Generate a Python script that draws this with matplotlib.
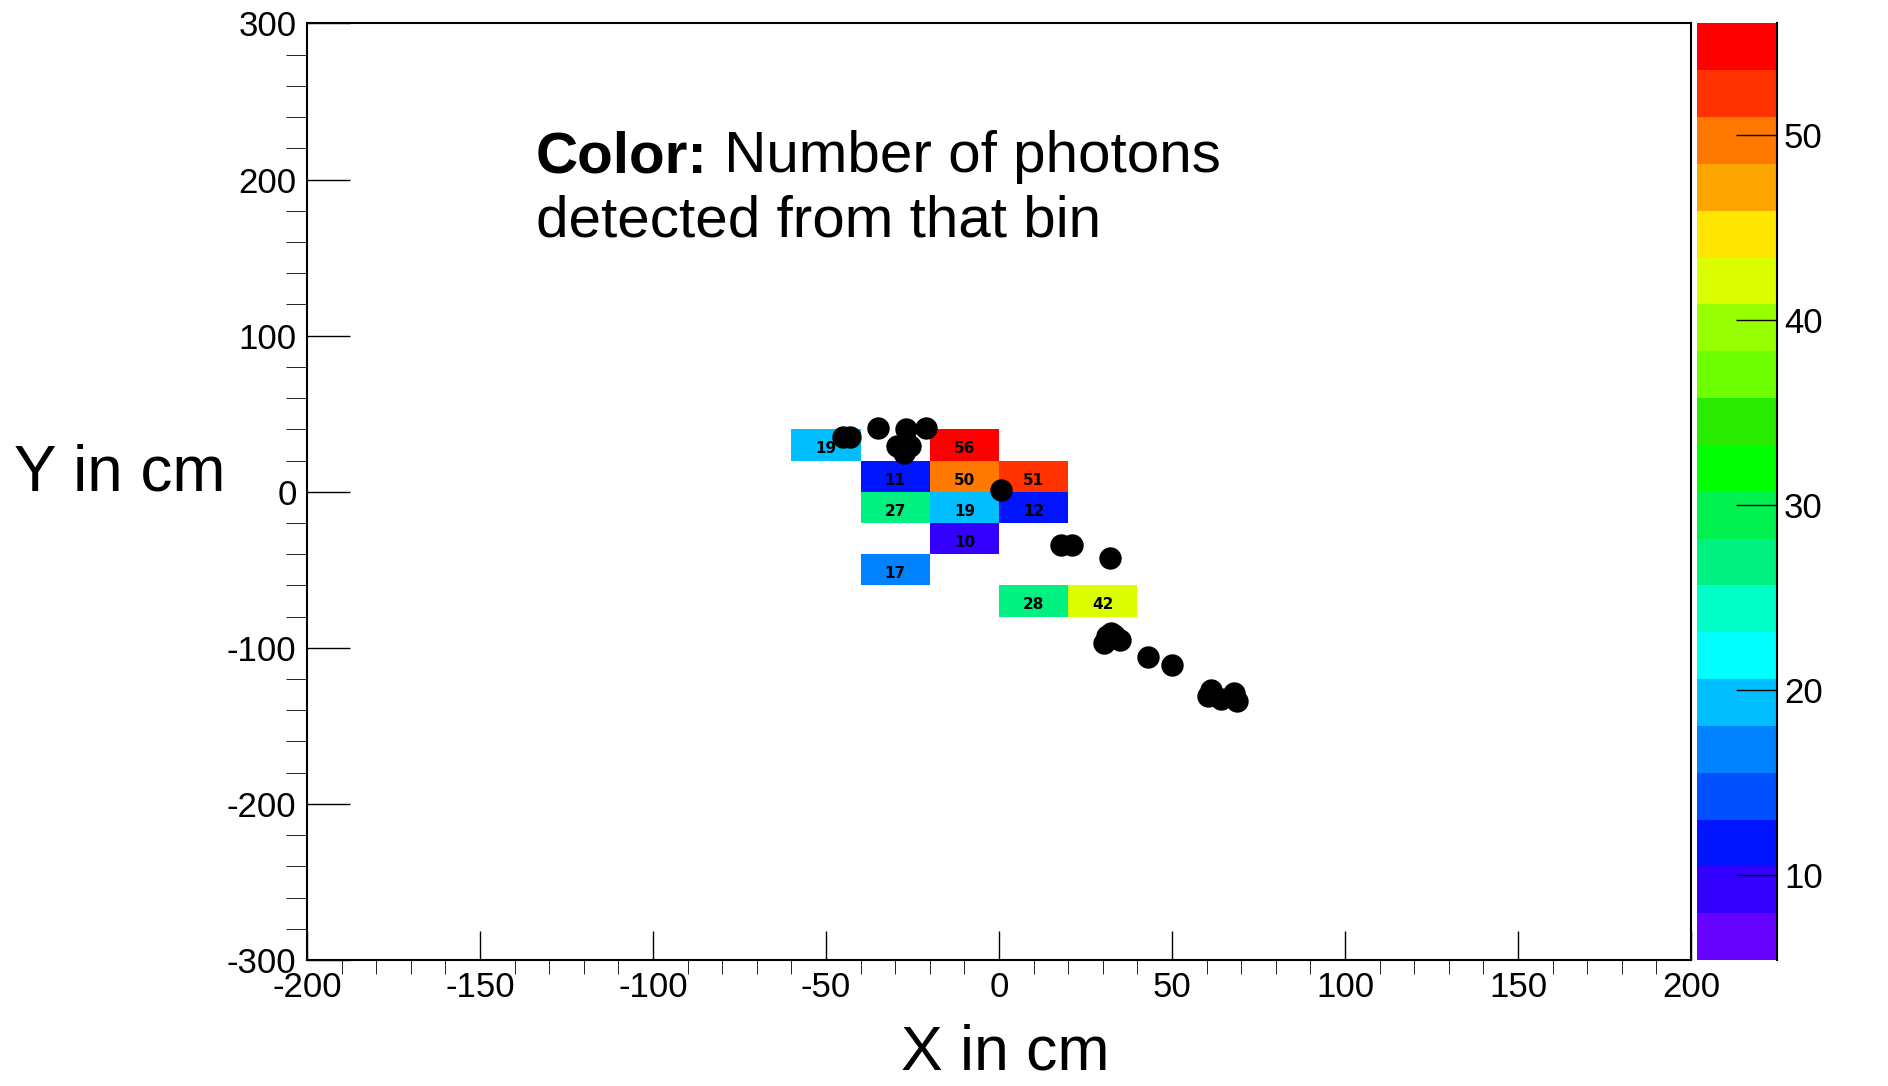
import numpy as np
import matplotlib.pyplot as plt
from matplotlib.colors import ListedColormap, Normalize

# ROOT draws plain hyphens as minus signs
plt.rcParams['axes.unicode_minus'] = False

# binned photon counts (bin centres in cm, 20x20 cm bins)
cell_x = [-50, -10, -30, -10, 10, -30, -10, 10, -10, -30, 10, 30]
cell_y = [30, 30, 10, 10, 10, -10, -10, -10, -30, -50, -70, -70]
counts = [19, 56, 11, 50, 51, 27, 19, 12, 10, 17, 28, 42]

# reconstructed hit positions (black dots)
hit_x = [-45, -43, -35, -27, -21, -29.5, -26.6, -27.6, -25.6, 0.5,
         18, 21, 32, 30.3, 31.3, 33.2, 35.1, 32.3, 43, 50,
         60.3, 61.2, 64.1, 67.9, 68.9]
hit_y = [35, 35, 41, 40, 41, 29, 31, 25, 29, 1,
         -34, -34, -42.5, -97, -92.6, -91.6, -94.8, -90.5, -106, -111,
         -131, -127, -133, -129, -134]

# ROOT-like 20 band rainbow palette, bottom to top
palette = ['#6600ff', '#3300ff', '#0014ff', '#0050ff', '#0082ff',
           '#00beff', '#00ffff', '#00ffc8', '#00f082', '#00f050',
           '#00ff00', '#28eb00', '#6eff00', '#96ff00', '#dcff00',
           '#ffe600', '#ffa500', '#ff7800', '#ff3200', '#ff0000']
z_min, z_max = 5.4, 56.0

fig = plt.figure(figsize=(18.88, 10.86), dpi=100)
ax = fig.add_axes([0.1626, 0.1160, 0.7331, 0.8624])
cax = fig.add_axes([0.8988, 0.1160, 0.0424, 0.8624])

# 2d histogram of the counts, empty bins left blank
xedges = np.arange(-200, 201, 20)
yedges = np.arange(-300, 301, 20)
H, xe, ye = np.histogram2d(cell_x, cell_y, bins=[xedges, yedges], weights=counts)
H = np.ma.masked_equal(H, 0)
cmap = ListedColormap(palette)
norm = Normalize(vmin=z_min, vmax=z_max)
pcm = ax.pcolormesh(xe, ye, H.T, cmap=cmap, norm=norm, zorder=1)

for x, y, c in zip(cell_x, cell_y, counts):
    ax.text(x, y - 2.5, str(c), ha='center', va='center', fontsize=11,
            fontweight='bold', family='DejaVu Sans', zorder=2)

ax.scatter(hit_x, hit_y, s=260, c='black', linewidths=0, zorder=3)

ax.set_xlim(-200, 200)
ax.set_ylim(-300, 300)
ax.set_xticks(np.arange(-200, 201, 50))
ax.set_xticks(np.arange(-200, 201, 10), minor=True)
ax.set_yticks(np.arange(-300, 301, 100))
ax.set_yticks(np.arange(-300, 301, 20), minor=True)
ax.tick_params(direction='in', labelsize=25, width=1, colors='black')
for lab in ax.get_xticklabels() + ax.get_yticklabels():
    lab.set_family('Liberation Sans')
ax.tick_params(axis='x', which='major', length=21, pad=8)
ax.tick_params(axis='x', which='minor', length=10)
ax.tick_params(axis='y', which='major', length=31, pad=7.5)
ax.tick_params(axis='y', which='minor', length=15)
for sp in ax.spines.values():
    sp.set_linewidth(1.5)

# colour scale
cbar = fig.colorbar(pcm, cax=cax)
cbar.outline.set_visible(False)
cbar.set_ticks([10, 20, 30, 40, 50])
cax.minorticks_off()
cax.yaxis.set_ticks_position('right')
cax.tick_params(direction='in', length=29.5, width=1, labelsize=25, pad=5)
for lab in cax.get_yticklabels():
    lab.set_family('Liberation Sans')
cax.plot([1, 1], [0, 1], color='black', lw=1.5, transform=cax.transAxes,
         clip_on=False)

# axis titles and note
fig.text(0.0074, 0.5479, 'Y in cm', fontsize=46, family='Liberation Sans',
         ha='left', va='baseline')
fig.text(0.5323, 0.003, 'X in cm', fontsize=45, family='Liberation Sans',
         ha='center', va='bottom')
t1 = fig.text(0.2839, 0.8412, 'Color:', fontsize=42, fontweight='bold',
              family='Liberation Sans', va='baseline')
fig.text(0.2839, 0.7825, 'detected from that bin', fontsize=42,
         family='Liberation Sans', va='baseline')
ax.annotate(' Number of photons', xy=(1, 0), xycoords=t1, fontsize=42,
            family='Liberation Sans', va='bottom', ha='left')

fig.savefig('out.png', dpi=100)
